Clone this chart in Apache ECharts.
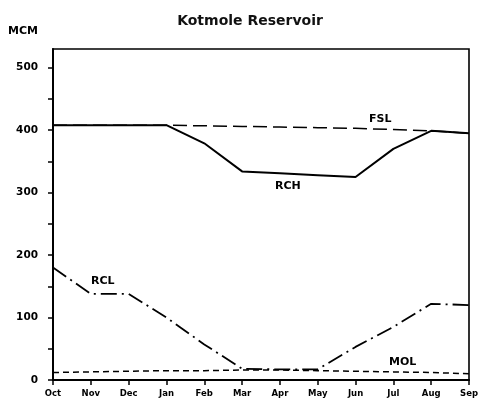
<!DOCTYPE html>
<html>
<head>
<meta charset="utf-8">
<script src="https://cdn.jsdelivr.net/npm/echarts@6/dist/echarts.min.js"></script>
<style>
    html, body { margin: 0; padding: 0; background: #fff; }
    #chart { width: 484px; height: 411px; }
</style>
</head>
<body>
<div id="chart"></div>
<script>
// months of the water year
let months = ['Oct', 'Nov', 'Dec', 'Jan', 'Feb', 'Mar', 'Apr', 'May', 'Jun', 'Jul', 'Aug', 'Sep'];

// storage levels, MCM
let fsl = [408, 408, 408, 408, 407, 406, 405, 404, 403, 401, 399, 395];
let rch = [408, 408, 408, 408, 379, 334, 331, 328, 325, 370, 399, 395];
let rcl = [180, 138, 138, 100, 57, 18, 17, 17, 53, 85, 122, 120];
let mol = [12, 13, 14, 15, 15, 16, 16, 15, 14, 13, 12, 10];

let yTicks = [0, 100, 200, 300, 400, 500];

let font = 'DejaVu Sans';

let chart = echarts.init(document.getElementById('chart'), null, { renderer: 'canvas' });

let lineSeries = function (name, data, type, width) {
    return {
        name: name,
        type: 'line',
        data: data,
        symbol: 'none',
        silent: true,
        lineStyle: { color: '#000', width: width, type: type }
    };
};

chart.setOption({
    animation: false,
    backgroundColor: '#fff',
    title: {
        text: 'Kotmole Reservoir',
        left: 245,
        textAlign: 'center',
        top: 9,
        textStyle: { fontFamily: font, fontSize: 14, fontWeight: 'bold', color: '#111' }
    },
    grid: {
        left: 53, right: 15, top: 49, bottom: 31,
        show: true,
        borderColor: '#000',
        borderWidth: 1.6
    },
    xAxis: {
        type: 'category',
        data: months,
        boundaryGap: false,
        axisLine: { lineStyle: { color: '#000', width: 2 } },
        axisTick: { length: 5, lineStyle: { color: '#000', width: 1.5 } },
        axisLabel: {
            margin: 9, color: '#000',
            fontFamily: font, fontSize: 8.5, fontWeight: 'bold'
        },
        splitLine: { show: false }
    },
    yAxis: {
        type: 'value',
        min: 0,
        max: 530,
        interval: 50,
        name: 'MCM',
        nameLocation: 'end',
        nameGap: 0,
        nameTextStyle: {
            fontFamily: font, fontSize: 11, fontWeight: 'bold', color: '#000',
            align: 'left', padding: [0, 0, 12, -45]
        },
        axisLine: { show: true, lineStyle: { color: '#000', width: 2 } },
        axisTick: { show: true, length: 5, lineStyle: { color: '#000', width: 1.5 } },
        axisLabel: {
            margin: 15, color: '#000',
            fontFamily: font, fontSize: 10.5, fontWeight: 'bold',
            showMaxLabel: false,
            formatter: function (v) {
                return yTicks.indexOf(v) >= 0 ? String(v) : '';
            }
        },
        splitLine: { show: false }
    },
    series: [
        lineSeries('FSL', fsl, [14, 6], 1.5),
        lineSeries('RCH', rch, 'solid', 2),
        lineSeries('RCL', rcl, [16, 5, 2, 5], 1.8),
        lineSeries('MOL', mol, [6, 4], 1.5)
    ],
    graphic: [
        { type: 'text', left: 369, top: 114, style: { text: 'FSL', font: 'bold 11px ' + font, fill: '#000' } },
        { type: 'text', left: 275, top: 181, style: { text: 'RCH', font: 'bold 11px ' + font, fill: '#000' } },
        { type: 'text', left: 91, top: 276, style: { text: 'RCL', font: 'bold 11px ' + font, fill: '#000' } },
        { type: 'text', left: 389, top: 357, style: { text: 'MOL', font: 'bold 11px ' + font, fill: '#000' } }
    ]
});
</script>
</body>
</html>
